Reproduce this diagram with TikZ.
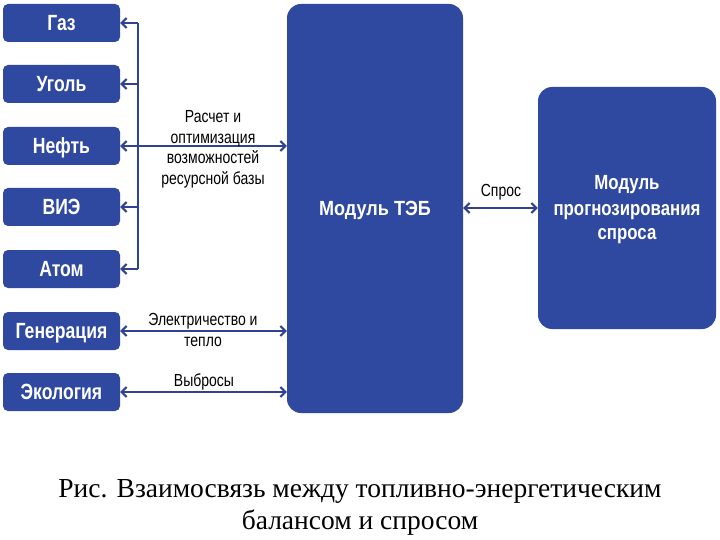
\documentclass[tikz,border=0pt]{standalone}
\usepackage{fontspec}
\setmainfont{Liberation Serif}
\setsansfont{Liberation Sans}
\usetikzlibrary{arrows.meta}
\definecolor{boxblue}{RGB}{47,72,160}
\definecolor{arrowblue}{RGB}{48,66,148}
\newcommand\sqz[2]{\scalebox{#1}[1]{\begin{tabular}{@{}c@{}}#2\end{tabular}}}
\newcommand\sqo[1]{\scalebox{0.8}[1]{#1}}
\tikzset{
  src/.style={draw=none, fill=boxblue, rounded corners=5pt, minimum width=117pt, minimum height=38pt,
    text=white, font=\sffamily\bfseries\fontsize{22}{24}\selectfont, inner sep=0pt,
    text height=15.8pt, text depth=0pt},
  big/.style={draw=none, fill=boxblue, rounded corners=14pt, text=white, align=center,
    font=\sffamily\bfseries\fontsize{20.5}{25}\selectfont, inner sep=0pt},
  conn/.style={draw=arrowblue, line width=2.2pt},
  tip/.style={-{Straight Barb[length=5pt,width=10pt,line width=2pt]}},
  bitip/.style={{Straight Barb[length=5pt,width=10pt,line width=2pt]}-{Straight Barb[length=5pt,width=10pt,line width=2pt]}},
  lbl/.style={font=\sffamily\fontsize{17.5}{20.5}\selectfont, align=center, text=black, inner sep=0pt}
}
\begin{document}
\begin{tikzpicture}[x=1pt,y=-1pt]
\useasboundingbox (0,0) rectangle (720,540);
\node[src] (gas) at (61.5,23) {\sqo{Газ}};
\node[src] (coal) at (61.5,84) {\sqo{Уголь}};
\node[src] (oil) at (61.5,146) {\sqo{Нефть}};
\node[src] (res) at (61.5,207) {\sqo{ВИЭ}};
\node[src] (atom) at (61.5,269) {\sqo{Атом}};
\node[src] (gen) at (61.5,331) {\sqo{Генерация}};
\node[src] (eco) at (61.5,392) {\sqo{Экология}};
\node[big, minimum width=176pt, minimum height=409pt] (teb) at (375,208.5) {};
\node[big] (tebtext) at (375,210) {\sqz{0.88}{Модуль ТЭБ}};
\node[big, minimum width=178pt, minimum height=242pt] (dem) at (627,208) {};
\node[big] (demtext) at (627,210) {\sqz{0.82}{Модуль\\прогнозирования\\спроса}};
\coordinate (vtop) at (138,23);
\coordinate (vbot) at (138,269);
\draw[conn] (vtop) -- (vbot);
\draw[conn,tip] (vtop) -- (gas.east);
\draw[conn,tip] (138,84) -- (coal.east);
\draw[conn,tip] (138,207) -- (res.east);
\draw[conn,tip] (vbot) -- (atom.east);
\draw[conn,bitip] (oil.east) -- (oil.east -| teb.west);
\draw[conn,bitip] (gen.east) -- (gen.east -| teb.west);
\draw[conn,bitip] (eco.east) -- (eco.east -| teb.west);
\draw[conn,bitip] (teb.east |- dem.west) -- (dem.west);
\node[lbl] (l1) at (213,149.5) {\sqz{0.8}{Расчет и\\оптимизация\\возможностей\\ресурсной базы}};
\node[lbl] (l2) at (203,332) {\sqz{0.8}{Электричество и\\тепло}};
\node[lbl] (l3) at (204,382) {\sqz{0.8}{Выбросы}};
\node[lbl] (l4) at (501,192) {\sqz{0.8}{Спрос}};
\node[font=\fontsize{27.5}{32}\selectfont, align=center, inner sep=0pt] (cap) at (360,507) {Рис. Взаимосвязь между топливно-энергетическим\\балансом и спросом};
\end{tikzpicture}
\end{document}
